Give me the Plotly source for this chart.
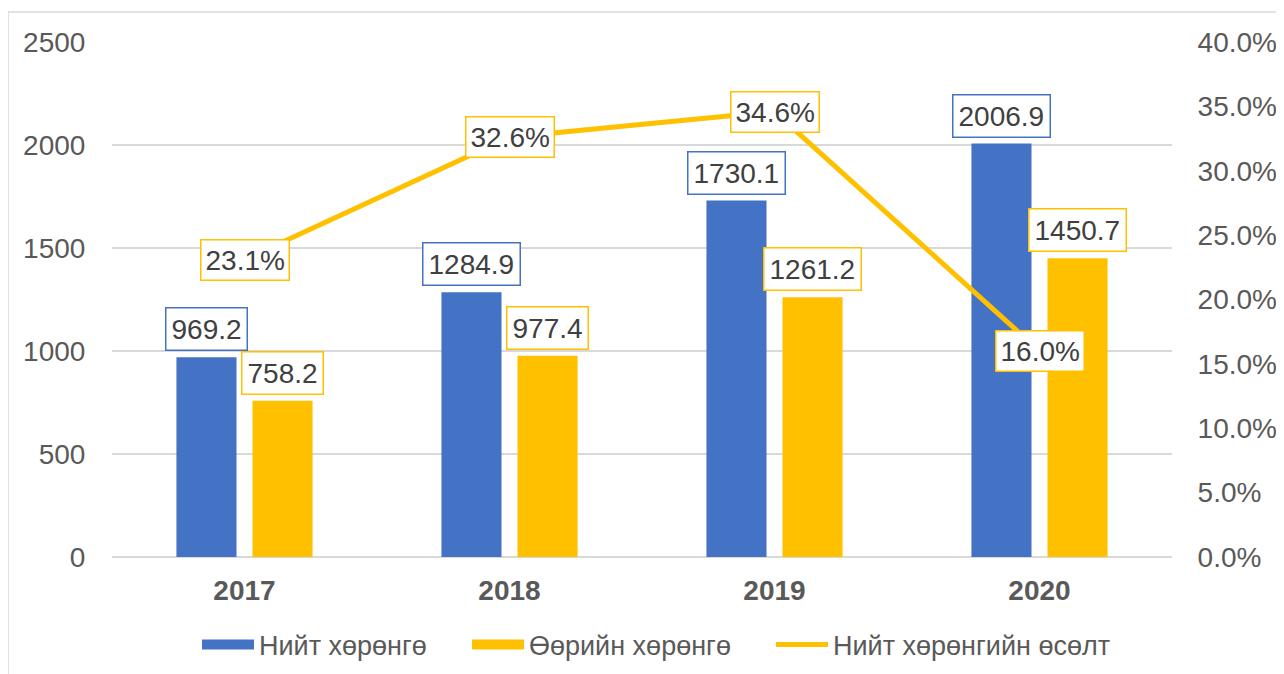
import plotly.graph_objects as go

years = ["2017", "2018", "2019", "2020"]
total_assets = [969.2, 1284.9, 1730.1, 2006.9]
equity = [758.2, 977.4, 1261.2, 1450.7]
growth = [0.231, 0.326, 0.346, 0.160]

name_total = "Нийт хөрөнгө"
name_equity = "Өөрийн хөрөнгө"
name_growth = "Нийт хөрөнгийн өсөлт"

BLUE = "#4472C4"
GOLD = "#FFC000"
FONT = "Liberation Sans, Arial, sans-serif"

W, H = 1284, 674
L, T = 104, 34
pw, ph = 1060, 515
R = W - L - pw
B = H - T - ph
slot = pw / len(years)
bargap = 0.426
bargroupgap = 0.21
off = slot * (1 - bargap) / 4

fig = go.Figure()
fig.add_trace(go.Bar(x=years, y=total_assets, name=name_total, marker_color=BLUE,
                     marker_line_width=0, showlegend=False, legendgroup="a"))
fig.add_trace(go.Bar(x=years, y=equity, name=name_equity, marker_color=GOLD,
                     marker_line_width=0, showlegend=False, legendgroup="b"))
# legend-only swatches (wide rectangles like the reference legend)
fig.add_trace(go.Scatter(x=[years[0]], y=[None], name=name_total, mode="lines",
                         line=dict(color=BLUE, width=14), legendgroup="a"))
fig.add_trace(go.Scatter(x=[years[0]], y=[None], name=name_equity, mode="lines",
                         line=dict(color=GOLD, width=14), legendgroup="b"))
fig.add_trace(go.Scatter(x=years, y=growth, name=name_growth, yaxis="y2",
                         mode="lines", line=dict(color=GOLD, width=5), legend="legend2"))

ann = []
lab_font = dict(family=FONT, size=28, color="#404040")
# category axis: annotation x given as the category index
for i, v in enumerate(total_assets):
    ann.append(dict(x=i, y=v, xref="x", yref="y", text=f"{v:.1f}", showarrow=False,
                    xshift=-off, yanchor="bottom", yshift=6, font=lab_font,
                    bgcolor="white", bordercolor=BLUE, borderwidth=1.5, borderpad=5))
for i, v in enumerate(equity):
    ann.append(dict(x=i, y=v, xref="x", yref="y", text=f"{v:.1f}", showarrow=False,
                    xshift=off, yanchor="bottom", yshift=6, font=lab_font,
                    bgcolor="white", bordercolor=GOLD, borderwidth=1.5, borderpad=5))
for i, v in enumerate(growth):
    ann.append(dict(x=i, y=v, xref="x", yref="y2", text=f"{v*100:.1f}%", showarrow=False,
                    yanchor="middle", font=lab_font,
                    bgcolor="white", bordercolor=GOLD, borderwidth=1.5, borderpad=4))

# outer chart border (page has an 8px body margin)
x0 = (0 - L) / pw
x1 = (W + 10 - L) / pw
y1 = (T + ph - 4) / ph
y0 = -(B + 10) / ph

leg_y = -(637 - (T + ph)) / ph
leg_font = dict(family=FONT, size=27, color="#595959")

fig.update_layout(
    width=W, height=H,
    margin=dict(l=L, r=R, t=T, b=B, autoexpand=False),
    paper_bgcolor="white", plot_bgcolor="white",
    barmode="group", bargap=bargap, bargroupgap=bargroupgap,
    font=dict(family=FONT, color="#595959"),
    annotations=ann,
    shapes=[dict(type="rect", xref="paper", yref="paper", x0=x0, x1=x1, y0=y0, y1=y1,
                 line=dict(color="#d9d9d9", width=1.5), layer="below")],
    xaxis=dict(type="category", categoryorder="array", categoryarray=years,
               range=[-0.5, len(years) - 0.5], automargin=False,
               tickfont=dict(family=FONT, size=28, color="#595959"),
               showgrid=False, showline=False, ticks="outside", ticklen=8,
               tickcolor="rgba(0,0,0,0)"),
    yaxis=dict(range=[0, 2500], tickvals=[0, 500, 1000, 1500, 2000, 2500], automargin=False,
               tickfont=dict(family=FONT, size=28, color="#595959"),
               gridcolor="#d9d9d9", gridwidth=1.5, zeroline=True, zerolinecolor="#d9d9d9",
               zerolinewidth=1.5, showline=False, ticks="outside", ticklen=20,
               tickcolor="rgba(0,0,0,0)"),
    yaxis2=dict(range=[0, 0.4], overlaying="y", side="right", automargin=False,
                tickvals=[0, 0.05, 0.1, 0.15, 0.2, 0.25, 0.3, 0.35, 0.4],
                tickformat=".1%",
                tickfont=dict(family=FONT, size=28, color="#595959"),
                showgrid=False, zeroline=False, showline=False, ticks="outside",
                ticklen=19, tickcolor="rgba(0,0,0,0)"),
    legend=dict(orientation="h", x=(203 - 8 - 6 - L) / pw, xanchor="left", y=leg_y,
                yanchor="middle", font=leg_font, bgcolor="rgba(0,0,0,0)",
                traceorder="normal", itemwidth=52, entrywidth=203, entrywidthmode="pixels"),
    legend2=dict(orientation="h", x=(777 - 8 - 6 - L) / pw, xanchor="left", y=leg_y,
                 yanchor="middle", font=leg_font, bgcolor="rgba(0,0,0,0)", itemwidth=52),
    showlegend=True,
)
fig.update_xaxes(tickfont_weight="bold")

fig.write_html("out.html")
